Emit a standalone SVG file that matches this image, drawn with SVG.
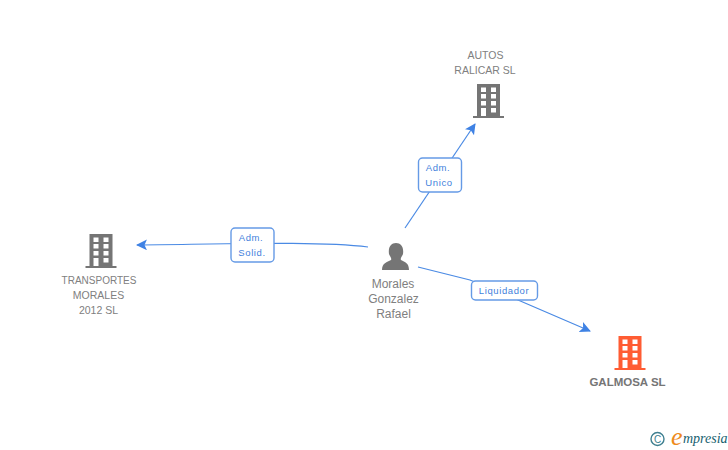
<svg xmlns="http://www.w3.org/2000/svg" width="728" height="450" viewBox="0 0 728 450">
<style>
text{font-family:"Liberation Sans",Arial,sans-serif}
.n{font-size:10px;fill:#808080;text-anchor:middle}
.n2{font-size:10.500px;fill:#808080;text-anchor:middle}
.p{font-size:12px;fill:#808080;text-anchor:middle}
.b{font-size:11.500px;font-weight:bold;fill:#757575;text-anchor:middle}
.l{font-size:9.500px;fill:#3f7fdc;text-anchor:middle;letter-spacing:.6px}
.c{fill:none;stroke:#4a8ae4;stroke-width:1.2}
.box{fill:#fff;stroke:#659ae6;stroke-width:1.4}
.w{fill:#fff}
</style>
<defs>
<marker id="a" markerUnits="userSpaceOnUse" markerWidth="12" markerHeight="12" refX="10" refY="5.500" orient="auto"><path d="M0 0L11 5.500L0 11L2.500 5.500Z" fill="#3f82e4"/></marker>
<g id="bld">
<path d="M-15.500 17V15H-11.500V-17H11.500V15H15.500V17Z"/>
<g class="w"><rect x="-7.500" y="-13.500" width="5" height="4.500"/><rect x="2.500" y="-13.500" width="5" height="4.500"/><rect x="-7.500" y="-7" width="5" height="4.500"/><rect x="2.500" y="-7" width="5" height="4.500"/><rect x="-7.500" y="0" width="5" height="4.500"/><rect x="2.500" y="0" width="5" height="4.500"/><rect x="-7.500" y="7" width="5" height="8"/><rect x="2.500" y="7" width="5" height="4.500"/></g>
</g>
</defs>
<rect width="728" height="450" fill="#fff"/>
<g id="connectors">
<path class="c" marker-end="url(#a)" d="M368 247C320 241 230 244 137 245"/>
<path class="c" marker-end="url(#a)" d="M405 228L475 124"/>
<path class="c" marker-end="url(#a)" d="M418 267L470 280L518 300L590 331"/>
</g>
<g id="edge-solid"><rect class="box" x="231" y="228" width="43" height="34" rx="4"/><text class="l" x="251" y="241">Adm.</text><text class="l" x="252" y="256">Solid.</text></g>
<g id="edge-unico"><rect class="box" x="418.500" y="158" width="43" height="34" rx="4"/><text class="l" x="438" y="171">Adm.</text><text class="l" x="439" y="186">Unico</text></g>
<g id="edge-liq"><rect class="box" x="471.500" y="281" width="66" height="19" rx="4"/><text class="l" x="504" y="294">Liquidador</text></g>
<g id="node-autos"><use href="#bld" x="488.500" y="101" fill="#757575"/><text class="n2" x="485.500" y="59">AUTOS</text><text class="n2" x="485" y="74">RALICAR SL</text></g>
<g id="node-transportes"><use href="#bld" x="101" y="251" fill="#757575"/><text class="n" x="99" y="284">TRANSPORTES</text><text class="n2" x="98.500" y="299">MORALES</text><text class="n2" x="98.500" y="314">2012 SL</text></g>
<g id="node-person"><path fill="#757575" d="M382 270C382 263 387 262 391 260C392 258 390 257 389 254C388 247 391 243 396 243C401 243 404 247 403 254C402 257 400 258 401 260C405 262 409 263 409 270Z"/><text class="p" x="393" y="288">Morales</text><text class="p" x="393.500" y="303">Gonzalez</text><text class="p" x="393.500" y="318">Rafael</text></g>
<g id="node-galmosa"><use href="#bld" x="630" y="353" fill="#ff5c33"/><text class="b" x="627.500" y="386">GALMOSA SL</text></g>
<g id="logo"><circle cx="657.500" cy="439" r="6.500" fill="none" stroke="#3f7f8f" stroke-width="1.400"/><text x="657.500" y="442.500" text-anchor="middle" style="font-size:10px;fill:#3f7f8f">C</text><text x="671" y="445" style="font-family:'Liberation Serif',serif;font-size:26px;font-style:italic;fill:#ee8a1c">e</text><text x="683" y="443" style="font-family:'Liberation Serif',serif;font-size:14px;font-style:italic;fill:#17616f">mpresia</text></g>
</svg>
